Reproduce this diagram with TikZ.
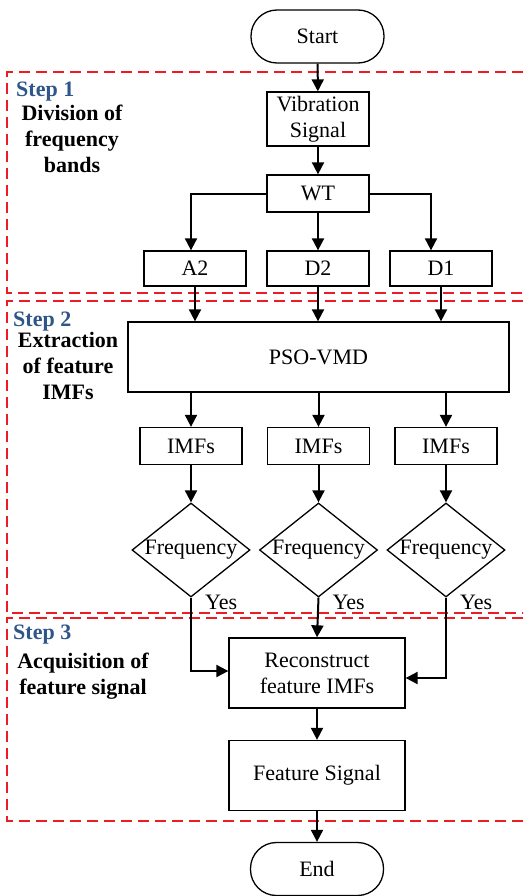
\documentclass[tikz,border=0pt]{standalone}
\usepackage{fontspec}
\setmainfont{Liberation Serif}
\usetikzlibrary{shapes.geometric,arrows.meta,calc}
\definecolor{stepblue}{RGB}{46,86,136}
\definecolor{dashred}{RGB}{236,28,36}
\begin{document}
\begin{tikzpicture}[x=1pt,y=-1pt,
  every node/.style={font=\fontsize{22}{26}\selectfont},
  box/.style={draw,line width=1.3pt,inner sep=0pt,fill=white},
  term/.style={box,rounded corners=26pt,minimum width=133pt,minimum height=53pt},
  decide/.style={draw,line width=1.3pt,diamond,aspect=1.255,inner sep=0pt,minimum width=118pt,minimum height=94pt},
  flow/.style={line width=2pt,-{Triangle[length=12pt,width=12pt]}},
  stepframe/.style={draw=dashred,line width=1.5pt,dash pattern=on 11pt off 6pt},
  steptitle/.style={font=\fontsize{22}{26}\selectfont\bfseries,text=stepblue,anchor=base west,inner sep=0pt},
  stepdesc/.style={font=\fontsize{22}{26}\selectfont\bfseries,align=center,inner sep=0pt},
  yeslab/.style={anchor=base west,inner sep=0pt}]
\useasboundingbox (0,0) rectangle (523,896);
\clip (0,0) rectangle (523,896);

% step frames
\draw[stepframe] (540,72) -- (7,72) -- (7,293) -- (540,293);
\draw[stepframe] (540,301) -- (7,301) -- (7,613) -- (540,613);
\draw[stepframe] (540,618) -- (7,618) -- (7,821) -- (540,821);

% step labels
\node[steptitle] (s1) at (16,97) {Step 1};
\node[stepdesc] (d1) at (72,139) {Division of\\frequency\\bands};
\node[steptitle] (s2) at (13,326) {Step 2};
\node[stepdesc] (d2) at (68,366) {Extraction\\of feature\\IMFs};
\node[steptitle] (s3) at (13,639) {Step 3};
\node[stepdesc] (d3) at (83,676) {Acquisition of\\feature signal};

% nodes
\node[term] (start) at (317.5,36.5) {Start};
\node[box,minimum width=102pt,minimum height=54pt,align=center] (vib) at (318,119) {Vibration\\Signal};
\node[box,minimum width=102pt,minimum height=37pt] (wt) at (318,193.5) {WT};
\node[box,minimum width=102pt,minimum height=35pt] (a2) at (195,268.5) {A2};
\node[box,minimum width=102pt,minimum height=35pt] (dd2) at (318,268.5) {D2};
\node[box,minimum width=102pt,minimum height=35pt] (dd1) at (441,268.5) {D1};
\node[box,minimum width=381pt,minimum height=70pt] (pso) at (318.5,357) {PSO-VMD};
\node[box,minimum width=102pt,minimum height=37pt] (imf1) at (191,446) {IMFs};
\node[box,minimum width=102pt,minimum height=37pt] (imf2) at (318.5,446) {IMFs};
\node[box,minimum width=102pt,minimum height=37pt] (imf3) at (446,446) {IMFs};
\node[decide] (f1) at (191,550) {};
\node[decide] (f2) at (318.5,550) {};
\node[decide] (f3) at (446,550) {};
\node (f1t) at (f1) {Frequency};
\node (f2t) at (f2) {Frequency};
\node (f3t) at (f3) {Frequency};
\node[box,minimum width=176pt,minimum height=70pt,align=center] (rec) at (317,673) {Reconstruct\\feature IMFs};
\node[box,minimum width=176pt,minimum height=70pt] (feat) at (317,775.5) {Feature Signal};
\node[term] (end) at (317,869) {End};

% Yes labels
\node[yeslab] (y1) at ([xshift=14pt,yshift=-12pt]f1.south) {Yes};
\node[yeslab] (y2) at ([xshift=14pt,yshift=-12pt]f2.south) {Yes};
\node[yeslab] (y3) at ([xshift=14pt,yshift=-12pt]f3.south) {Yes};

% connectors
\draw[flow] (start) -- (vib);
\draw[flow] (vib) -- (wt);
\draw[flow] (wt.west) -| ([xshift=-4pt]a2.north);
\draw[flow] (wt) -- (dd2);
\draw[flow] (wt.east) -| ([xshift=-10pt]dd1.north);
\draw[flow] (a2.south) -- (a2.south |- pso.north);
\draw[flow] (dd2.south) -- (dd2.south |- pso.north);
\draw[flow] (dd1.south) -- (dd1.south |- pso.north);
\draw[flow] (imf1.north |- pso.south) -- (imf1.north);
\draw[flow] (imf2.north |- pso.south) -- (imf2.north);
\draw[flow] (imf3.north |- pso.south) -- (imf3.north);
\draw[flow] (imf1) -- (f1);
\draw[flow] (imf2) -- (f2);
\draw[flow] (imf3) -- (f3);
\draw[flow] (f1.south) |- ([yshift=2pt]rec.west);
\draw[flow] (f2.south) -- (rec.north);
\draw[flow] (f3.south) |- ([yshift=-5pt]rec.east);
\draw[flow] (rec) -- (feat);
\draw[flow] (feat) -- (end);
\end{tikzpicture}
\end{document}
